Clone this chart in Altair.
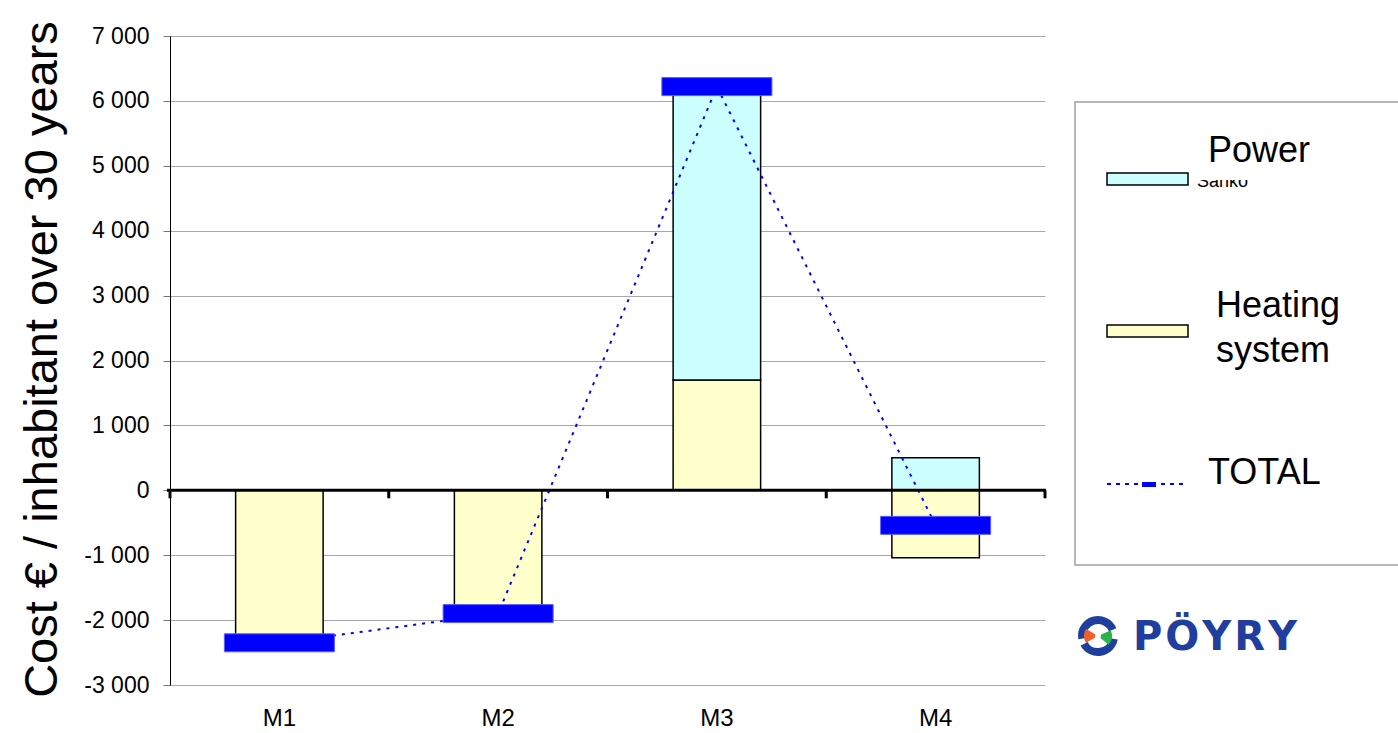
import altair as alt
import pandas as pd

# ---- data -------------------------------------------------------------
categories = ["M1", "M2", "M3", "M4"]
heating = [-2350, -1900, 1700, -1040]
power = [0, 0, 4520, 500]
total = [h + p for h, p in zip(heating, power)]
y_ticks = list(range(-3000, 7001, 1000))

# ---- layout / style ---------------------------------------------------
W, H = 875, 649
PAD = {"left": 170, "top": 36, "right": 353, "bottom": 48}
FONT = "Liberation Sans"
HEAT_FILL = "#FFFFCC"
POWER_FILL = "#CCFFFF"
BLUE = "#0000FF"
LOGO_BLUE = "#1f3e9e"
Y_DOMAIN = [-3000, 7000]

bars_df = pd.DataFrame({
    "cat": categories * 2,
    "component": ["Heating system"] * 4 + ["Power"] * 4,
    "value": heating + power,
    "order": [0] * 4 + [1] * 4,
})
bars_df = bars_df[bars_df["value"] != 0]
total_df = pd.DataFrame({"cat": categories, "total": total})

tick_len = 8 / H * (Y_DOMAIN[1] - Y_DOMAIN[0])  # 8 px downward tick on the zero line
edge_df = pd.DataFrame({"cat": categories, "zero": 0, "tick_end": -tick_len})
zero_df = pd.DataFrame({"zero": [0]})
one = pd.DataFrame({"k": [0]})

y_scale = alt.Scale(domain=Y_DOMAIN, nice=False, zero=False)
y_axis = alt.Axis(
    title="Cost € / inhabitant over 30 years",
    values=y_ticks,
    labelExpr="datum.value == 0 ? '0' : (datum.value < 0 ? '-' : '') + floor(abs(datum.value) / 1000) + ' 000'",
    labelFont=FONT, labelFontSize=23, labelColor="black", labelPadding=14,
    tickSize=7, tickColor="#777777", domainColor="black", domainWidth=1,
    grid=True, gridColor="#a8a8a8", gridWidth=1,
    titleFont=FONT, titleFontSize=47, titleFontWeight="normal", titleColor="black",
    titleAngle=270, titleX=-114, titleY=323, titleAlign="center", titleBaseline="alphabetic",
)
x_scale = alt.Scale(domain=categories, paddingInner=0, paddingOuter=0)
x_axis = alt.Axis(
    title=None, labelAngle=0, ticks=False, domain=False, grid=False,
    labelFont=FONT, labelFontSize=24, labelColor="black", labelPadding=21,
)


def xcat(**kw):
    return alt.X("cat:N", sort=categories, scale=x_scale, axis=x_axis, **kw)


bars = alt.Chart(bars_df).mark_bar(
    width=alt.RelativeBandSize(0.4), stroke="black", strokeWidth=1.5
).encode(
    x=xcat(),
    y=alt.Y("value:Q", stack="zero", scale=y_scale, axis=y_axis),
    color=alt.Color(
        "component:N",
        scale=alt.Scale(domain=["Heating system", "Power"], range=[HEAT_FILL, POWER_FILL]),
        legend=None,
    ),
    order=alt.Order("order:Q"),
)

zero_line = alt.Chart(zero_df).mark_rule(color="black", strokeWidth=3).encode(
    y=alt.Y("zero:Q", scale=y_scale, axis=y_axis),
    x=alt.value(-3),
    x2=alt.value(W + 1),
)

edge_ticks_start = alt.Chart(edge_df).mark_rule(color="black", strokeWidth=3).encode(
    x=xcat(bandPosition=0),
    y=alt.Y("zero:Q", scale=y_scale, axis=y_axis),
    y2="tick_end:Q",
)
edge_ticks_end = alt.Chart(edge_df[edge_df["cat"] == categories[-1]]).mark_rule(
    color="black", strokeWidth=3
).encode(
    x=xcat(bandPosition=1),
    y=alt.Y("zero:Q", scale=y_scale, axis=y_axis),
    y2="tick_end:Q",
)

total_line = alt.Chart(total_df).mark_line(
    color=BLUE, strokeWidth=2, strokeDash=[3, 6]
).encode(
    x=xcat(),
    y=alt.Y("total:Q", scale=y_scale, axis=y_axis),
)

total_marks = alt.Chart(total_df).mark_tick(
    color=BLUE, thickness=18, size=110, opacity=1, stroke="#5c5cff", strokeWidth=1
).encode(
    x=xcat(),
    y=alt.Y("total:Q", scale=y_scale, axis=y_axis),
)


# ---- legend & logo (pixel positions relative to the plot origin) ------
def box(x, x2, y, y2, **kw):
    return alt.Chart(one).mark_rect(**kw).encode(
        x=alt.value(x), x2=alt.value(x2), y=alt.value(y), y2=alt.value(y2)
    )


def label(text, x, y, size, **kw):
    opts = dict(align="left", baseline="alphabetic", font=FONT, fontSize=size, color="black")
    opts.update(kw)
    return alt.Chart(one).mark_text(text=text, **opts).encode(x=alt.value(x), y=alt.value(y))


def arc(t0, t1, r_in, r_out, color, cx=928, cy=600):
    return alt.Chart(one).mark_arc(
        theta=t0, theta2=t1, radius=r_out, radius2=r_in, color=color
    ).encode(x=alt.value(cx), y=alt.value(cy))


legend = [
    box(905, 1240, 66, 529, fill="white", stroke="#a0a0a0", strokeWidth=1.5),
    box(937, 1018, 137, 149, fill=POWER_FILL, stroke="black", strokeWidth=1.5),
    label("Sähkö", 1027, 151, 18),
    box(1022, 1120, 105, 144, fill="white", strokeWidth=0),
    label("Power", 1038, 126, 36),
    box(937, 1018, 289, 301, fill=HEAT_FILL, stroke="black", strokeWidth=1.5),
    label("Heating", 1046, 281, 36),
    label("system", 1046, 326, 36),
    alt.Chart(one).mark_rule(color=BLUE, strokeWidth=2, strokeDash=[4, 5]).encode(
        x=alt.value(937), x2=alt.value(1017), y=alt.value(448)
    ),
    box(972, 986, 446, 451, fill=BLUE),
    label("TOTAL", 1038, 448, 36),
]

# wordmark letters, spaced out a little
logo_letters = ["P", "Ö", "Y", "R", "Y"]
logo_advance = [0.733, 0.850, 0.724, 0.770, 0.724]
logo_size = 40
logo_x = [963]
for adv in logo_advance[:-1]:
    logo_x.append(logo_x[-1] + adv * logo_size + 3)

logo = [
    arc(4.55, 7.45, 12, 20, LOGO_BLUE),
    arc(1.75, 4.2, 12, 20, LOGO_BLUE),
    arc(4.2, 5.25, 3, 14, "#f0602a"),
    arc(1.15, 2.25, 3, 14, "#2bb44a"),
] + [
    label(ch, x, 614, logo_size, font="DejaVu Sans", fontWeight="bold", color=LOGO_BLUE)
    for ch, x in zip(logo_letters, logo_x)
]

chart = alt.layer(
    bars, total_line, zero_line, edge_ticks_start, edge_ticks_end, total_marks,
    *legend, *logo,
).properties(
    width=W, height=H, padding=PAD, autosize=alt.AutoSizeParams(type="none"),
    background="white",
).configure_view(strokeWidth=0)

chart.save("out.html", embed_options={"renderer": "svg", "actions": False})
